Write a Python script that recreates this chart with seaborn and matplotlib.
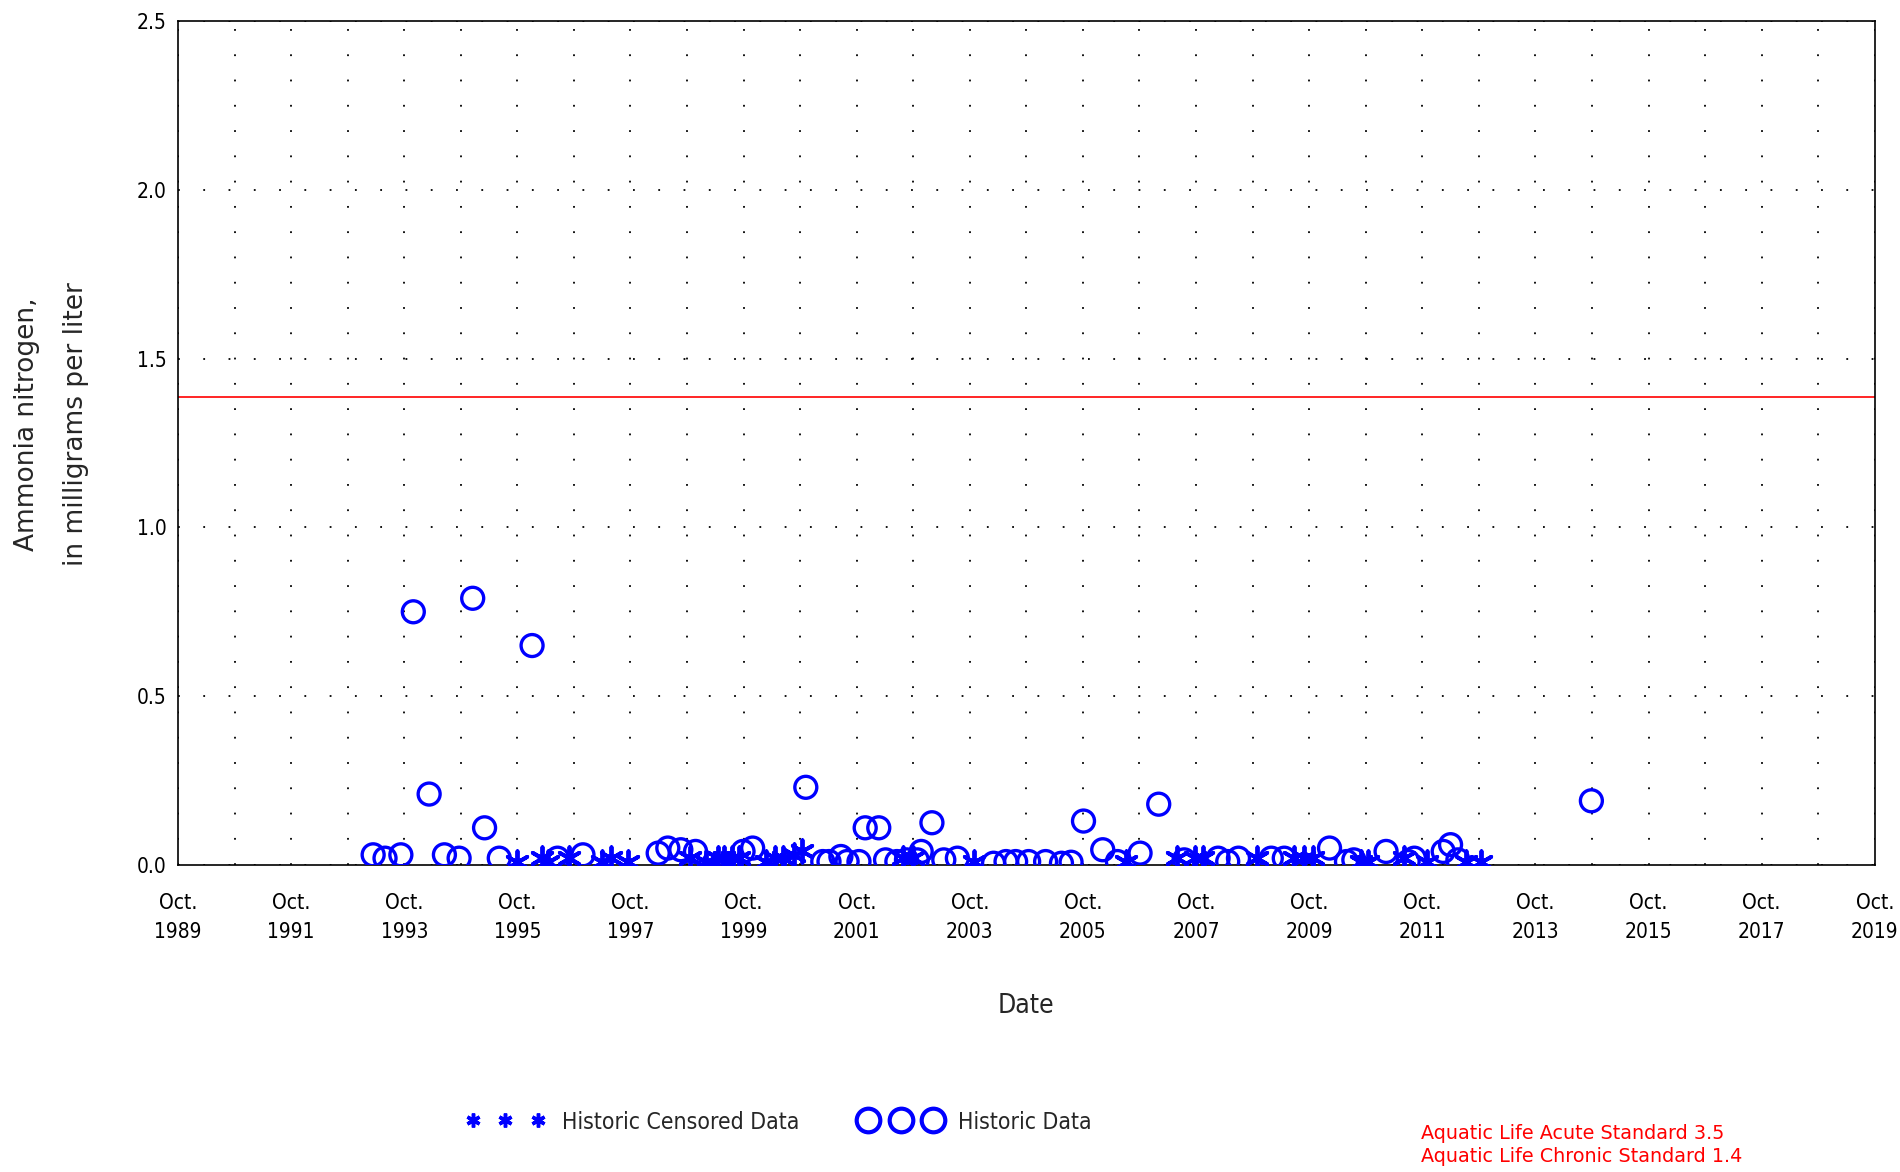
import numpy as np
import pandas as pd
import matplotlib
matplotlib.use("Agg")
import matplotlib.pyplot as plt
from matplotlib.lines import Line2D
from matplotlib.ticker import MultipleLocator, FuncFormatter
import seaborn as sns

# data (decimal years, mg/L)
hist_years = [1993.20, 1993.41, 1993.69, 1993.91, 1994.19, 1994.46, 1994.72, 1994.96,
              1995.17, 1995.43, 1996.01, 1996.46, 1996.91, 1998.24, 1998.41, 1998.64,
              1998.90, 1999.74, 1999.91, 2000.85, 2001.15, 2001.26, 2001.47, 2001.58,
              2001.79, 2001.90, 2002.14, 2002.26, 2002.46, 2002.63, 2002.82, 2002.89,
              2003.08, 2003.29, 2003.53, 2004.17, 2004.39, 2004.56, 2004.79, 2005.09,
              2005.37, 2005.54, 2005.76, 2006.10, 2006.36, 2006.76, 2007.09, 2007.54,
              2008.14, 2008.31, 2008.50, 2009.08, 2009.31, 2010.11, 2010.41, 2010.54,
              2011.11, 2011.50, 2011.61, 2012.12, 2012.25, 2012.38, 2014.74]
hist_values = [0.03, 0.02, 0.03, 0.75, 0.21, 0.03, 0.02, 0.79,
               0.11, 0.02, 0.65, 0.02, 0.03, 0.035, 0.05, 0.045,
               0.04, 0.04, 0.05, 0.23, 0.01, 0.01, 0.025, 0.01,
               0.01, 0.11, 0.11, 0.015, 0.01, 0.015, 0.015, 0.04,
               0.125, 0.015, 0.02, 0.005, 0.01, 0.01, 0.01, 0.01,
               0.005, 0.008, 0.13, 0.045, 0.01, 0.035, 0.18, 0.015,
               0.02, 0.01, 0.02, 0.02, 0.02, 0.05, 0.01, 0.015,
               0.04, 0.01, 0.02, 0.04, 0.06, 0.015, 0.19]

cens_years = [1995.75, 1996.18, 1996.29, 1996.67, 1997.25, 1997.40, 1997.70, 1998.81,
              1999.09, 1999.29, 1999.41, 1999.54, 1999.67, 2000.14, 2000.31, 2000.44,
              2000.64, 2000.79, 2002.56, 2002.74, 2003.83, 2006.51, 2007.41, 2007.73,
              2007.88, 2008.82, 2009.49, 2009.66, 2009.81, 2010.66, 2010.79, 2011.43,
              2011.84, 2012.53, 2012.79]
cens_values = [0.01, 0.02, 0.01, 0.02, 0.01, 0.02, 0.01, 0.02,
               0.01, 0.02, 0.02, 0.02, 0.02, 0.01, 0.02, 0.02,
               0.03, 0.04, 0.02, 0.02, 0.01, 0.01, 0.02, 0.02,
               0.02, 0.02, 0.02, 0.02, 0.02, 0.01, 0.01, 0.02,
               0.01, 0.01, 0.01]

chronic_line = 1.387
tick_years = list(range(1989, 2020, 2))

hist = pd.DataFrame({"year": hist_years, "value": hist_values})
cens = pd.DataFrame({"year": cens_years, "value": cens_values})

sns.set_style("white")
plt.rcParams['font.family'] = ['DejaVu Sans']
plt.rcParams['font.stretch'] = 'condensed'

blue = "#0000ff"
fig = plt.figure(figsize=(19, 11.72), dpi=100)
ax = fig.add_axes([0.0937, 0.262, 0.893, 0.720])

sns.scatterplot(data=cens, x="year", y="value", ax=ax, marker=(6, 2, 0), s=260,
                color=blue, edgecolor=blue, linewidth=2.8, zorder=3)
sns.scatterplot(data=hist, x="year", y="value", ax=ax, marker="o", s=250,
                facecolor="none", edgecolor=blue, linewidth=2.4, zorder=4)
ax.axhline(chronic_line, color="red", lw=1.2, zorder=2)

ax.set_xlim(1989.75, 2019.75)
ax.set_ylim(0, 2.5)
ax.xaxis.set_major_locator(MultipleLocator(1, offset=0.75))
ax.xaxis.set_minor_locator(MultipleLocator(0.25, offset=0.0))
ax.yaxis.set_major_locator(MultipleLocator(0.5))
ax.yaxis.set_minor_locator(MultipleLocator(0.05))


def xfmt(v, pos):
    y = int(round(v - 0.75))
    return f"Oct.\n{y}" if y in tick_years else ""


ax.xaxis.set_major_formatter(FuncFormatter(xfmt))
ax.yaxis.set_major_formatter(FuncFormatter(lambda v, p: f"{v:.1f}"))
ax.tick_params(axis="both", which="major", direction="in", length=10, width=1.2,
               labelsize=15, colors="black")
ax.tick_params(axis="both", which="minor", direction="in", length=4, width=1)
ax.tick_params(axis="x", which="major", pad=20)
ax.tick_params(axis="y", which="major", pad=8)
for lab in ax.get_xticklabels():
    lab.set_linespacing(1.6)

ax.grid(True, axis="x", which="major", color="black", lw=1.3, linestyle=(0, (1, 13)))
ax.grid(True, axis="y", which="major", color="black", lw=1.3, linestyle=(0, (1, 13)))
for sp in ax.spines.values():
    sp.set_color("black")
    sp.set_linewidth(1.2)

ax.set_xlabel("")
ax.set_ylabel("")
fig.text(0.540, 0.142, "Date", ha="center", va="center", fontsize=19)
fig.text(0.014, 0.638, "Ammonia nitrogen,", rotation=90, ha="center", va="center",
         fontsize=19, fontstretch="normal")
fig.text(0.040, 0.638, "in milligrams per liter", rotation=90, ha="center", va="center",
         fontsize=19, fontstretch="normal")

# legend drawn by hand
for xp in [0.249, 0.266, 0.283]:
    fig.add_artist(Line2D([xp], [0.044], marker=(6, 2, 0), markersize=10, color=blue,
                          markeredgewidth=2.5, linestyle="none", transform=fig.transFigure))
fig.text(0.296, 0.042, "Historic Censored Data", ha="left", va="center", fontsize=16.5)
for xp in [0.457, 0.474, 0.491]:
    fig.add_artist(Line2D([xp], [0.044], marker="o", markersize=17, markerfacecolor="none",
                          markeredgecolor=blue, markeredgewidth=3, linestyle="none",
                          transform=fig.transFigure))
fig.text(0.504, 0.042, "Historic Data", ha="left", va="center", fontsize=16.5)

fig.text(0.748, 0.033, "Aquatic Life Acute Standard 3.5", color="red", ha="left",
         va="center", fontsize=13.8, fontstretch="normal")
fig.text(0.748, 0.013, "Aquatic Life Chronic Standard 1.4", color="red", ha="left",
         va="center", fontsize=13.8, fontstretch="normal")

fig.savefig("out.png", dpi=100)
